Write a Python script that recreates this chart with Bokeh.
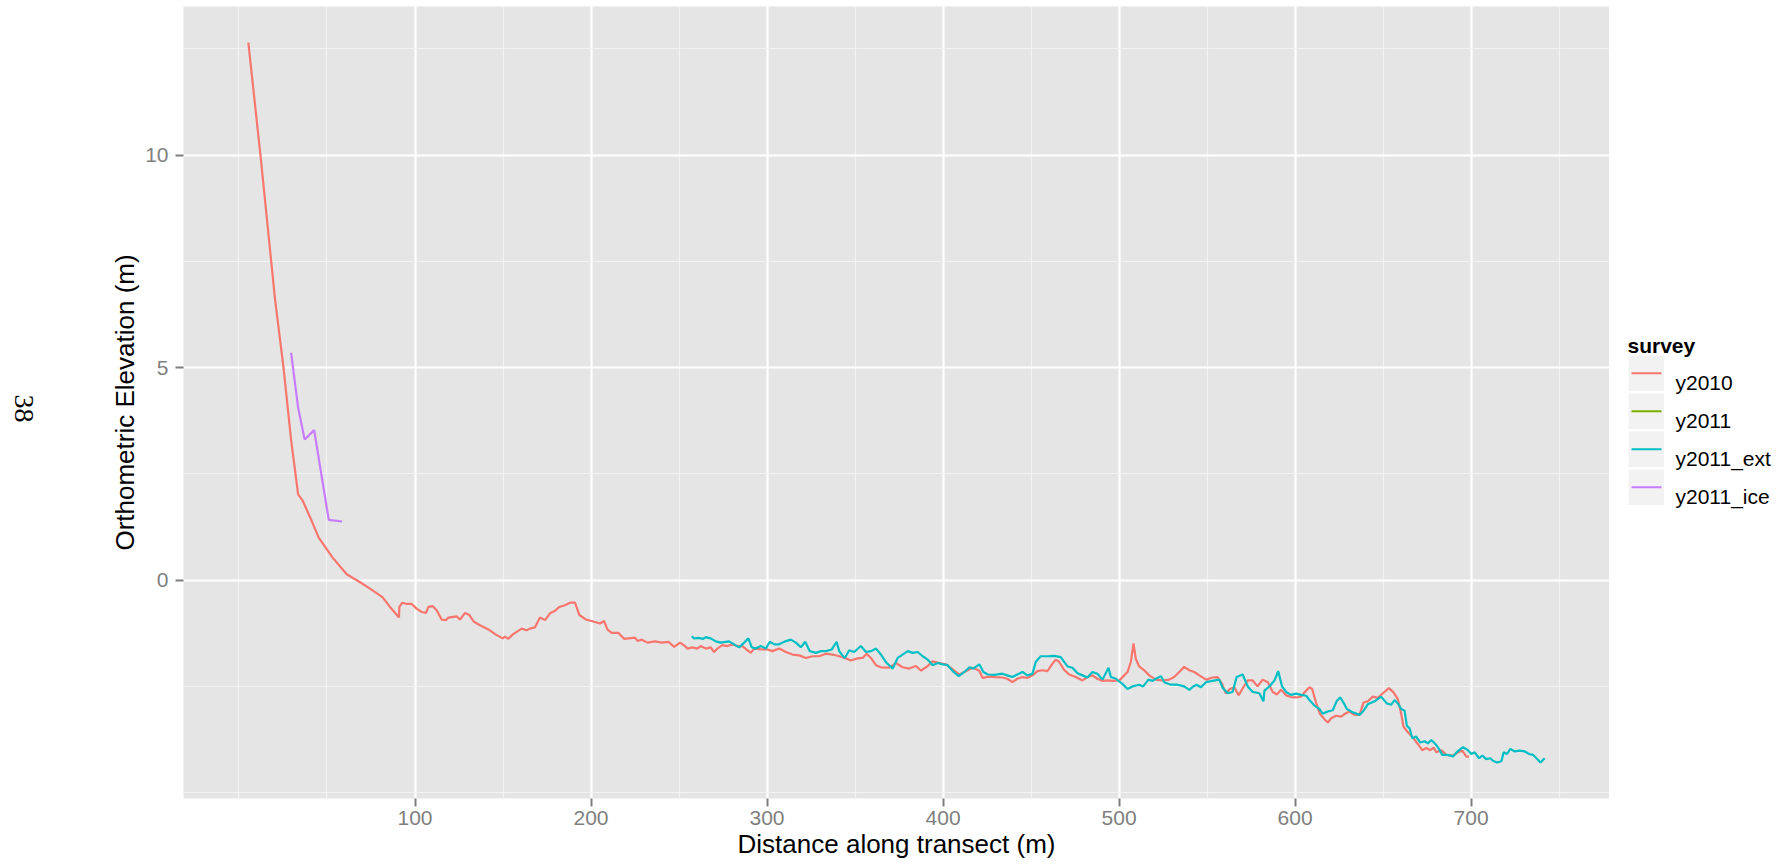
import numpy as np
from bokeh.plotting import figure
from bokeh.models import Range1d, FixedTicker, ColumnDataSource
from bokeh.layouts import row
from bokeh.embed import file_html
from bokeh.resources import INLINE
from bokeh.core.properties import value

# ---------------- data ----------------
surveys = ["y2010", "y2011", "y2011_ext", "y2011_ice"]
survey_colors = ["#F8766D", "#7CAE00", "#00BFC4", "#C77CFF"]

y2010_x = [5.3, 12.2, 20.5, 25.3, 29.6, 33.6, 36.2, 40.5, 45.3, 53.2, 61.2, 68.8, 74.4, 81.5, 85.8,
           90.9, 91.1, 92.8, 95.3, 98.1, 100.9, 103.8, 106.3, 107.6, 110.0, 112.3, 115.2, 117.6, 119.0,
           123.7, 125.6, 128.4, 130.9, 133.5, 136.9, 141.7, 145.5, 149.8, 151.1, 153.0, 155.8, 160.6,
           163.4, 165.3, 168.2, 171.0, 173.9, 176.7, 179.6, 182.0, 185.2, 188.1, 190.9, 193.4, 197.2,
           200.4, 205.1, 207.4, 209.3, 211.7, 215.5, 218.8, 225.0, 226.4, 228.8, 232.1, 236.4, 240.2,
           244.0, 247.2, 250.6, 253.4, 254.7, 257.6, 260.4, 262.3, 265.2, 268.0, 269.9, 271.8, 274.6,
           277.5, 280.3, 283.2, 286.0, 288.9, 290.8, 292.7, 296.5, 300.2, 303.1, 306.9, 310.7, 314.5,
           318.3, 322.0, 325.8, 329.6, 333.4, 337.2, 341.0, 344.8, 347.6, 351.4, 354.3, 356.6, 359.0,
           361.9, 364.7, 369.5, 373.2, 377.0, 380.8, 384.6, 387.5, 391.3, 394.1, 397.9, 401.7, 405.5,
           409.3, 413.1, 416.9, 420.6, 422.5, 426.3, 429.9, 433.7, 436.5, 439.4, 442.2, 445.1, 447.9,
           450.8, 453.6, 456.4, 459.3, 462.1, 464.0, 465.9, 468.8, 471.6, 475.4, 479.2, 482.0, 484.9,
           487.7, 490.6, 493.4, 496.3, 500.1, 502.9, 504.8, 506.7, 508.2, 509.5, 511.4, 514.3, 517.1,
           520.9, 524.7, 528.5, 531.3, 534.2, 537.0, 539.9, 542.7, 545.6, 549.4, 553.1, 556.0, 558.5,
           560.7, 563.0, 565.5, 567.9, 570.6, 573.1, 575.9, 578.7, 581.6, 584.5, 587.3, 589.6, 592.0,
           594.9, 597.7, 600.6, 603.4, 605.3, 608.2, 609.7, 611.9, 614.2, 616.7, 618.6, 620.5, 623.3,
           626.2, 628.1, 630.9, 633.8, 636.6, 638.9, 641.3, 644.2, 647.0, 649.9, 653.3, 655.9, 658.4,
           660.3, 661.6, 664.1, 666.9, 669.8, 672.2, 674.5, 676.8, 678.7, 680.2, 683.0, 685.9, 689.7,
           692.5, 695.0, 697.3, 698.8]
y2010_y = [12.65, 10.0, 6.6, 5.0, 3.3, 2.02, 1.87, 1.47, 1.0, 0.53, 0.14, -0.05, -0.2, -0.4, -0.63,
           -0.88, -0.63, -0.53, -0.56, -0.56, -0.67, -0.75, -0.77, -0.63, -0.61, -0.71, -0.93, -0.94, -0.88,
           -0.85, -0.93, -0.77, -0.82, -0.98, -1.06, -1.16, -1.27, -1.37, -1.33, -1.38, -1.27, -1.14,
           -1.18, -1.14, -1.11, -0.88, -0.94, -0.78, -0.72, -0.63, -0.59, -0.53, -0.53, -0.82, -0.93,
           -0.96, -1.02, -0.96, -1.16, -1.24, -1.24, -1.38, -1.35, -1.43, -1.40, -1.47, -1.44, -1.47,
           -1.45, -1.57, -1.47, -1.55, -1.61, -1.58, -1.61, -1.55, -1.61, -1.58, -1.69, -1.61, -1.53,
           -1.55, -1.51, -1.55, -1.55, -1.65, -1.71, -1.61, -1.63, -1.63, -1.67, -1.61, -1.69, -1.75,
           -1.77, -1.83, -1.79, -1.79, -1.73, -1.75, -1.79, -1.84, -1.89, -1.84, -1.83, -1.73, -1.83,
           -2.0, -2.05, -2.06, -1.95, -2.05, -2.08, -2.02, -2.13, -2.02, -1.91, -1.95, -1.98, -2.10,
           -2.22, -2.14, -2.06, -2.13, -2.30, -2.27, -2.28, -2.29, -2.32, -2.40, -2.32, -2.28, -2.30,
           -2.24, -2.14, -2.12, -2.14, -1.97, -1.87, -1.92, -2.11, -2.22, -2.28, -2.36, -2.28, -2.24,
           -2.32, -2.37, -2.36, -2.37, -2.36, -2.24, -2.16, -1.92, -1.49, -1.85, -2.03, -2.12, -2.24,
           -2.34, -2.36, -2.34, -2.28, -2.16, -2.04, -2.12, -2.16, -2.24, -2.34, -2.29, -2.28, -2.44,
           -2.67, -2.56, -2.52, -2.71, -2.52, -2.36, -2.36, -2.50, -2.34, -2.40, -2.63, -2.69, -2.58,
           -2.71, -2.75, -2.76, -2.74, -2.64, -2.52, -2.56, -2.88, -3.15, -3.27, -3.35, -3.25, -3.19,
           -3.21, -3.15, -3.09, -3.17, -3.17, -2.88, -2.85, -2.74, -2.77, -2.66, -2.54, -2.64, -2.80,
           -3.15, -3.45, -3.58, -3.70, -3.86, -4.00, -3.95, -4.00, -3.94, -4.05, -4.00, -4.11, -4.13,
           -4.05, -4.01, -4.15, -4.15]

y2011_x = []
y2011_y = []

y2011_ext_x = [257.2, 258.5, 261.4, 263.7, 265.2, 268.0, 270.9, 273.7, 276.5, 278.4, 281.3, 284.1, 287.0,
               289.4, 291.3, 293.6, 296.5, 299.3, 301.6, 304.0, 306.9, 310.3, 313.5, 316.4, 319.2, 321.7,
               324.3, 327.7, 330.6, 333.4, 336.8, 339.5, 341.0, 343.9, 344.8, 346.7, 349.5, 353.3, 356.2,
               359.0, 361.9, 364.7, 368.0, 371.4, 374.2, 377.0, 379.9, 382.7, 385.6, 388.4, 391.3, 394.1,
               397.0, 399.8, 402.6, 405.5, 408.9, 412.1, 415.0, 417.2, 420.6, 422.9, 425.4, 429.2, 433.7,
               436.5, 439.4, 442.2, 445.1, 447.9, 450.8, 452.7, 455.5, 459.3, 463.1, 466.9, 468.8, 470.7,
               473.5, 476.4, 479.2, 482.0, 484.9, 487.7, 490.6, 494.0, 495.3, 498.2, 501.9, 504.8, 507.6,
               511.4, 513.7, 516.7, 519.0, 520.9, 523.8, 525.7, 529.5, 533.2, 537.0, 539.9, 542.2, 544.0,
               546.5, 549.4, 553.1, 556.9, 558.8, 561.7, 564.5, 566.8, 570.2, 573.1, 575.9, 579.7, 582.0,
               582.6, 585.4, 588.3, 590.4, 592.6, 594.9, 597.7, 600.6, 603.4, 606.3, 608.5, 611.0, 613.8,
               615.7, 618.6, 621.4, 623.7, 625.6, 627.5, 629.4, 632.8, 636.6, 638.9, 641.3, 645.1, 648.9,
               652.1, 654.6, 656.5, 658.4, 660.3, 662.2, 663.5, 665.0, 666.6, 668.8, 671.1, 673.6, 675.5,
               677.4, 679.8, 681.7, 683.6, 686.8, 689.7, 692.5, 695.4, 698.2, 700.1, 702.0, 704.5, 706.4,
               708.6, 710.9, 712.4, 714.7, 717.2, 718.5, 720.4, 722.3, 724.8, 727.6, 730.5, 733.0, 735.2,
               737.5, 739.4, 741.8]
y2011_ext_y = [-1.32, -1.37, -1.36, -1.38, -1.34, -1.37, -1.44, -1.47, -1.45, -1.44, -1.51, -1.58, -1.47,
               -1.37, -1.58, -1.61, -1.55, -1.61, -1.45, -1.51, -1.51, -1.44, -1.40, -1.47, -1.58, -1.45,
               -1.67, -1.71, -1.67, -1.67, -1.63, -1.45, -1.67, -1.83, -1.79, -1.65, -1.69, -1.55, -1.69,
               -1.67, -1.61, -1.75, -1.95, -2.08, -1.83, -1.75, -1.67, -1.71, -1.69, -1.79, -1.87, -2.00,
               -1.95, -1.98, -2.00, -2.14, -2.26, -2.16, -2.05, -2.08, -1.98, -2.16, -2.22, -2.23, -2.20,
               -2.24, -2.28, -2.22, -2.16, -2.24, -2.20, -1.92, -1.79, -1.79, -1.78, -1.81, -1.92, -2.03,
               -2.06, -2.19, -2.24, -2.29, -2.16, -2.20, -2.34, -2.06, -2.28, -2.32, -2.44, -2.56, -2.50,
               -2.46, -2.50, -2.34, -2.37, -2.32, -2.26, -2.40, -2.46, -2.46, -2.50, -2.58, -2.50, -2.46,
               -2.52, -2.40, -2.37, -2.34, -2.53, -2.66, -2.63, -2.28, -2.22, -2.50, -2.63, -2.66, -2.85,
               -2.60, -2.50, -2.36, -2.14, -2.50, -2.63, -2.70, -2.67, -2.70, -2.72, -2.84, -2.95, -3.03,
               -3.14, -3.09, -3.06, -2.84, -2.76, -2.88, -3.03, -3.11, -3.17, -3.07, -2.92, -2.85, -2.74,
               -2.90, -2.93, -2.82, -2.90, -3.03, -3.07, -3.43, -3.48, -3.72, -3.68, -3.82, -3.79, -3.84,
               -3.76, -3.86, -3.97, -4.11, -4.11, -4.15, -4.02, -3.93, -4.00, -4.09, -4.05, -4.19, -4.13,
               -4.21, -4.19, -4.25, -4.29, -4.26, -4.05, -4.09, -3.97, -4.03, -4.01, -4.03, -4.09, -4.11,
               -4.21, -4.29, -4.19]

y2011_ice_x = [29.6, 33.6, 37.3, 42.7, 51.0, 58.6]
y2011_ice_y = [5.35, 4.06, 3.31, 3.53, 1.42, 1.38]

series_x = [y2010_x, y2011_x, y2011_ext_x, y2011_ice_x]
series_y = [y2010_y, y2011_y, y2011_ext_y, y2011_ice_y]

x_ticks = [100, 200, 300, 400, 500, 600, 700]
x_minor_ticks = [0, 50, 150, 250, 350, 450, 550, 650, 750]
y_ticks = [0, 5, 10]
y_minor_ticks = [-5, -2.5, 2.5, 7.5, 12.5]

page_label = "38"
x_title = "Distance along transect (m)"
y_title = "Orthometric Elevation (m)"
legend_title = "survey"

# ---------------- layout constants (pixels) ----------------
W, H = 1792, 868
LEFT, RIGHT, TOP, BOTTOM = 183, 1609, 6, 798   # plot panel edges on the page
MARGIN_W = 60                                   # strip holding the rotated page number
SANS = "Liberation Sans"

all_x = [v for s in series_x for v in s]
all_y = [v for s in series_y for v in s]
xpad = 0.05 * (max(all_x) - min(all_x))
ypad = 0.05 * (max(all_y) - min(all_y))
x0, x1 = min(all_x) - xpad, max(all_x) + xpad
y0, y1 = min(all_y) - ypad, max(all_y) + ypad


def side_panel(width):
    # the row aligns the frames of its plots, so give side panels the same
    # vertical borders and a range in page pixels (top -> bottom)
    f = figure(width=width, height=H, x_range=Range1d(0, width), y_range=Range1d(BOTTOM, TOP),
               output_backend="svg", toolbar_location=None,
               min_border_left=0, min_border_right=0,
               min_border_top=TOP, min_border_bottom=H - BOTTOM,
               x_axis_location=None, y_axis_location=None)
    f.outline_line_color = None
    f.background_fill_color = "white"
    f.border_fill_color = "white"
    f.grid.visible = False
    return f


# ---------------- left strip with page number ----------------
pg = side_panel(MARGIN_W)
pg.text(x=[23], y=[408], text=[page_label], angle=-np.pi / 2,
        text_font=value("Liberation Serif"), text_font_size="28px", text_color="black",
        text_align="center", text_baseline="middle")

# ---------------- main plot ----------------
p = figure(width=RIGHT - MARGIN_W, height=H, x_range=Range1d(x0, x1), y_range=Range1d(y0, y1),
           output_backend="svg", toolbar_location=None,
           min_border_left=LEFT - MARGIN_W, min_border_right=0,
           min_border_top=TOP, min_border_bottom=H - BOTTOM)
p.background_fill_color = "#E5E5E5"
p.border_fill_color = "white"
p.outline_line_color = None

p.xaxis.ticker = FixedTicker(ticks=x_ticks, minor_ticks=x_minor_ticks)
p.yaxis.ticker = FixedTicker(ticks=y_ticks, minor_ticks=y_minor_ticks)

for g in (p.xgrid, p.ygrid):
    g.grid_line_color = "white"
    g.grid_line_width = 2.2
    g.minor_grid_line_color = "#F2F2F2"
    g.minor_grid_line_width = 1.1

for ax in (p.xaxis, p.yaxis):
    ax.axis_line_color = None
    ax.major_tick_line_color = "#7F7F7F"
    ax.major_tick_line_width = 2
    ax.major_tick_in = 0
    ax.major_tick_out = 8
    ax.minor_tick_line_color = None
    ax.major_label_text_color = "#7F7F7F"
    ax.major_label_text_font = SANS
    ax.major_label_text_font_size = "21px"
    ax.axis_label_text_font = SANS
    ax.axis_label_text_font_size = "26px"
    ax.axis_label_text_font_style = "normal"
    ax.axis_label_text_color = "black"

p.xaxis.axis_label = x_title
p.yaxis.axis_label = y_title
p.xaxis.major_label_standoff = 4
p.xaxis.axis_label_standoff = 1
p.yaxis.major_label_standoff = 7
p.yaxis.axis_label_standoff = 2

for xs, ys, col in zip(series_x, series_y, survey_colors):
    src = ColumnDataSource(dict(x=xs, y=ys))
    p.line("x", "y", source=src, line_color=col, line_width=2.2)

# ---------------- legend panel ----------------
LW = W - RIGHT
lg = side_panel(LW)

key_size, key_pitch, key_top = 35.5, 38, 355
key_cx = 19 + key_size / 2
centers = [key_top + key_size / 2 + i * key_pitch for i in range(len(surveys))]

lg.rect(x=[key_cx] * len(surveys), y=centers, width=key_size, height=key_size,
        fill_color="#F2F2F2", line_color=None)
lg.segment(x0=[22] * len(surveys), y0=centers, x1=[52] * len(surveys), y1=centers,
           line_color=survey_colors, line_width=2.2)
lg.text(x=[66] * len(surveys), y=[c + 9 for c in centers], text=surveys,
        text_font=value(SANS), text_font_size="21px", text_color="black",
        text_baseline="alphabetic", text_align="left")
lg.text(x=[18], y=[345], text=[legend_title], text_font=value(SANS), text_font_size="21px",
        text_font_style="bold", text_color="black", text_baseline="alphabetic", text_align="left")

layout = row(pg, p, lg)
open("out.html", "w").write(file_html(layout, INLINE))
